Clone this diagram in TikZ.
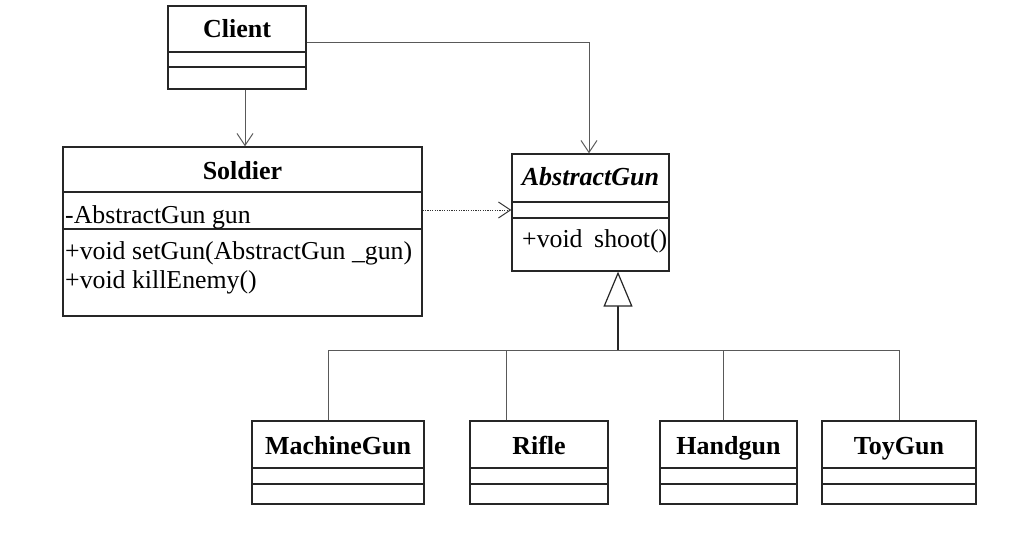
\documentclass[tikz,border=0pt]{standalone}
\usepackage{fontspec}
\setmainfont{Liberation Serif}
\usetikzlibrary{arrows.meta}
\begin{document}
\begin{tikzpicture}[x=1pt,y=-1pt,
  umlbox/.style={draw=black!85, line width=1.3pt, rectangle, inner sep=0pt},
  divider/.style={draw=black!85, line width=1.3pt},
  ttl/.style={inner sep=0pt, anchor=base, font=\fontsize{26}{29}\selectfont\bfseries},
  member/.style={inner sep=0pt, anchor=base west, font=\fontsize{25.8}{29}\selectfont},
  conn/.style={draw=black!65, line width=1pt},
  assoc/.style={conn, -{Straight Barb[length=12pt,width=16pt,line width=1pt]}},
  dep/.style={draw=black!80, line width=1pt, dash pattern=on 1.2pt off 1.2pt,
     -{Straight Barb[length=12pt,width=16pt,line width=1pt]}},
  inherit/.style={draw=black!85, line width=1.2pt,
     -{Triangle[open, length=35pt, width=29pt, line width=1.2pt, fill=white]}}
]
\useasboundingbox[fill=white] (0,0) rectangle (1020,536);

% Client
\node[umlbox, minimum width=138pt, minimum height=83pt] (client) at (237,47.5) {};
\draw[divider] (client.west |- 0,52) -- (client.east |- 0,52);
\draw[divider] (client.west |- 0,67) -- (client.east |- 0,67);
\node[ttl] (clientT) at (237,37.5) {Client};

% Soldier
\node[umlbox, minimum width=359pt, minimum height=169pt] (soldier) at (242.5,231.5) {};
\draw[divider] (soldier.west |- 0,192) -- (soldier.east |- 0,192);
\draw[divider] (soldier.west |- 0,229) -- (soldier.east |- 0,229);
\node[ttl] (soldierT) at (242.5,179) {Soldier};
\node[member] (soldierA) at (65,223) {-AbstractGun gun};
\node[member] (soldierM1) at (65,259) {+void setGun(AbstractGun \_gun)};
\node[member] (soldierM2) at (65,288) {+void killEnemy()};

% AbstractGun
\node[umlbox, minimum width=157pt, minimum height=117pt] (ag) at (590.5,212.5) {};
\draw[divider] (ag.west |- 0,202) -- (ag.east |- 0,202);
\draw[divider] (ag.west |- 0,218) -- (ag.east |- 0,218);
\node[ttl, font=\fontsize{26}{29}\selectfont\bfseries\itshape] (agT) at (590.5,185) {AbstractGun};
\node[member] (agM) at (522,247) {+void\hspace{0.45em}shoot()};

% Subclasses
\node[umlbox, minimum width=172pt, minimum height=83pt] (mg) at (338,462.5) {};
\node[umlbox, minimum width=138pt, minimum height=83pt] (rifle) at (539,462.5) {};
\node[umlbox, minimum width=137pt, minimum height=83pt] (hand) at (728.5,462.5) {};
\node[umlbox, minimum width=154pt, minimum height=83pt] (toy) at (899,462.5) {};
\foreach \n in {mg,rifle,hand,toy}{
  \draw[divider] (\n.west |- 0,468) -- (\n.east |- 0,468);
  \draw[divider] (\n.west |- 0,484) -- (\n.east |- 0,484);
}
\node[ttl] (mgT) at (338,454) {MachineGun};
\node[ttl] (rifleT) at (539,454) {Rifle};
\node[ttl] (handT) at (728.5,454) {Handgun};
\node[ttl] (toyT) at (899,454) {ToyGun};

% Connectors
\draw[assoc] ([xshift=8pt]client.south) -- ([xshift=8pt]client.south |- soldier.north);
\draw[assoc] ([yshift=5.5pt]client.east) -| ([xshift=-1.5pt]ag.north);
\draw[dep] (soldier.east |- 0,210) -- (ag.west |- 0,210);

\coordinate (bus) at (618,350);
\draw[inherit] (bus) -- (ag.south -| bus);
\draw[conn] ([xshift=-10pt]mg.north) |- (toy.north |- bus) -- (toy.north);
\draw[conn] ([xshift=-33pt]rifle.north) -- ([xshift=-33pt]rifle.north |- bus);
\draw[conn] ([xshift=-5.5pt]hand.north) -- ([xshift=-5.5pt]hand.north |- bus);
\end{tikzpicture}
\end{document}
